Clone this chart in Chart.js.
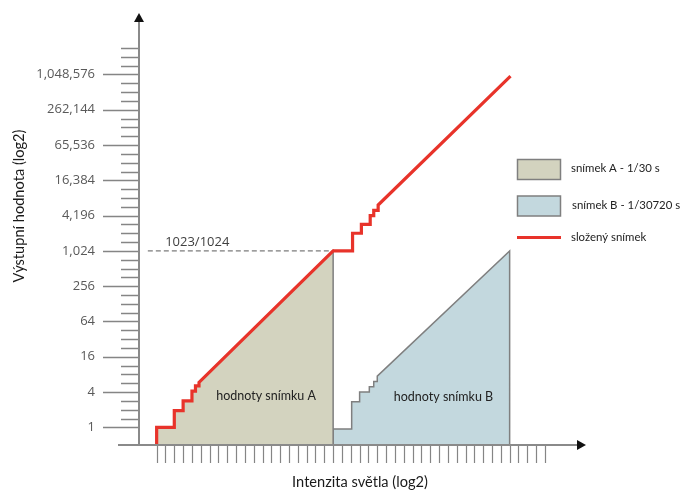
<!DOCTYPE html>
<html>
<head>
<meta charset="utf-8">
<script src="https://cdn.jsdelivr.net/npm/chart.js@4.4.1/dist/chart.umd.min.js"></script>
<style>
    body { margin: 0; background: #fff; }
    #wrap { width: 683px; height: 490px; }
</style>
</head>
<body>
<div id="wrap"><canvas id="chart" width="683" height="490"></canvas></div>
<script>
// values in log2 units (x = light intensity, y = output value)
const aX = [0, 0, 1, 1, 1.5, 1.5, 2, 2, 2.2, 2.2, 2.4, 2.4, 10, 10];
const aY = [-1, 0, 0, 0.95, 0.95, 1.5, 1.5, 2.05, 2.05, 2.35, 2.35, 2.55, 10, -1];

const bX = [10, 10, 11.05, 11.05, 11.5, 11.5, 12.05, 12.05, 12.3, 12.3, 12.5, 12.5, 20, 20];
const bY = [-1, -0.1, -0.1, 1.45, 1.45, 2.0, 2.0, 2.3, 2.3, 2.6, 2.6, 2.9, 10, -1];

const cX = [0, 0, 1, 1, 1.5, 1.5, 2, 2, 2.2, 2.2, 2.4, 2.4, 10, 11.1, 11.1, 11.6, 11.6, 12.1, 12.1, 12.3, 12.3, 12.55, 12.55, 20.05];
const cY = [-1, 0, 0, 0.95, 0.95, 1.5, 1.5, 2.05, 2.05, 2.35, 2.35, 2.55, 10, 10, 11, 11, 11.5, 11.5, 12, 12, 12.3, 12.3, 12.6, 19.9];

const dashX = [-0.5, 10];
const dashY = [10, 10];

const yTickPos = [0, 2, 4, 6, 8, 10, 12, 14, 16, 18, 20];
const yTickLabels = ['1', '4', '16', '64', '256', '1,024', '4,196', '16,384', '65,536', '262,144', '1,048,576'];

const seriesNames = ['snímek A - 1/30 s', 'snímek B - 1/30720 s', 'složený snímek'];

const colA = '#d3d3bf';
const colB = '#c3d8de';
const colRed = '#e8332a';
const colEdge = '#7f7f7f';

function pts(xs, ys) {
    return xs.map((x, i) => ({ x: x, y: ys[i] }));
}

const axesPlugin = {
    id: 'axesPlugin',
    afterDatasetsDraw(chart) {
        const ctx = chart.ctx;
        const xs = chart.scales.x;
        const ys = chart.scales.y;
        const x0 = xs.getPixelForValue(-1);
        const y0 = ys.getPixelForValue(-1);
        const top = chart.chartArea.top;
        const right = chart.chartArea.right;

        ctx.save();
        // y minor / major ticks
        ctx.strokeStyle = '#858585';
        ctx.lineWidth = 1.5;
        for (let v = 0; v <= 21.5; v += 0.5) {
            const py = Math.round(ys.getPixelForValue(v)) + 0.5;
            const major = yTickPos.indexOf(v) >= 0;
            ctx.beginPath();
            ctx.moveTo(x0 - (major ? 36 : 18), py);
            ctx.lineTo(x0, py);
            ctx.stroke();
        }
        // x ticks
        ctx.lineWidth = 1.2;
        for (let u = 0; u <= 22; u += 0.5) {
            const px = Math.round(xs.getPixelForValue(u)) + 0.5;
            ctx.beginPath();
            ctx.moveTo(px, y0 + 1);
            ctx.lineTo(px, y0 + 18);
            ctx.stroke();
        }
        // axis lines
        ctx.strokeStyle = '#8a8a8a';
        ctx.lineWidth = 2;
        ctx.beginPath();
        ctx.moveTo(x0, y0);
        ctx.lineTo(x0, top + 6);
        ctx.moveTo(x0 - 21, y0);
        ctx.lineTo(right - 6, y0);
        ctx.stroke();
        // arrows
        ctx.fillStyle = '#111';
        ctx.beginPath();
        ctx.moveTo(x0, top - 2);
        ctx.lineTo(x0 - 5, top + 7);
        ctx.lineTo(x0 + 5, top + 7);
        ctx.closePath();
        ctx.fill();
        ctx.beginPath();
        ctx.moveTo(right + 1, y0);
        ctx.lineTo(right - 8, y0 - 5);
        ctx.lineTo(right - 8, y0 + 5);
        ctx.closePath();
        ctx.fill();

        // tick labels
        ctx.fillStyle = '#595959';
        ctx.font = '13px "Open Sans"';
        ctx.textAlign = 'right';
        ctx.textBaseline = 'middle';
        yTickPos.forEach((v, i) => {
            ctx.fillText(yTickLabels[i], x0 - 44, ys.getPixelForValue(v));
        });

        // dashed line label
        ctx.fillStyle = '#404040';
        ctx.textAlign = 'center';
        ctx.fillText('1023/1024', xs.getPixelForValue(2.3), ys.getPixelForValue(10) - 9);

        // region labels
        ctx.fillStyle = '#222';
        ctx.font = '12.5px Lato';
        ctx.fillText('hodnoty snímku A', xs.getPixelForValue(6.2), ys.getPixelForValue(1.8));
        ctx.fillText('hodnoty snímku B', xs.getPixelForValue(16.25), ys.getPixelForValue(1.75));

        // axis titles
        ctx.fillStyle = '#1a1a1a';
        ctx.font = '14.6px Lato';
        ctx.fillText('Intenzita světla (log2)', 360, 482);
        ctx.save();
        ctx.translate(19, 206);
        ctx.rotate(-Math.PI / 2);
        ctx.fillText('Výstupní hodnota (log2)', 0, 0);
        ctx.restore();

        // legend
        ctx.lineWidth = 1.5;
        ctx.strokeStyle = colEdge;
        ctx.fillStyle = colA;
        ctx.fillRect(517.5, 159.5, 43, 20);
        ctx.strokeRect(517.5, 159.5, 43, 20);
        ctx.fillStyle = colB;
        ctx.fillRect(517.5, 196, 43, 20);
        ctx.strokeRect(517.5, 196, 43, 20);
        ctx.strokeStyle = colRed;
        ctx.lineWidth = 3;
        ctx.beginPath();
        ctx.moveTo(517, 237.5);
        ctx.lineTo(561, 237.5);
        ctx.stroke();
        ctx.fillStyle = '#222';
        ctx.font = '11.4px Lato';
        ctx.textAlign = 'left';
        ctx.fillText(seriesNames[0], 571, 168);
        ctx.fillText(seriesNames[1], 572, 205);
        ctx.fillText(seriesNames[2], 571, 237);
        ctx.restore();
    }
};

const ctx = document.getElementById('chart').getContext('2d');
const chart = new Chart(ctx, {
    type: 'line',
    data: {
        datasets: [
            {
                label: seriesNames[2],
                data: pts(cX, cY),
                borderColor: colRed,
                borderWidth: 3.2,
                borderJoinStyle: 'miter',
                pointRadius: 0,
                fill: false,
                tension: 0
            },
            {
                label: 'dash',
                data: pts(dashX, dashY),
                borderColor: '#5a5a5a',
                borderWidth: 1,
                borderDash: [5, 3],
                pointRadius: 0,
                fill: false
            },
            {
                label: seriesNames[0],
                data: pts(aX, aY),
                borderColor: colEdge,
                borderWidth: 1.5,
                backgroundColor: colA,
                pointRadius: 0,
                fill: { target: { value: -1 } },
                tension: 0
            },
            {
                label: seriesNames[1],
                data: pts(bX, bY),
                borderColor: colEdge,
                borderWidth: 1.5,
                backgroundColor: colB,
                pointRadius: 0,
                fill: { target: { value: -1 } },
                tension: 0
            }
        ]
    },
    options: {
        responsive: false,
        animation: false,
        events: [],
        layout: {
            padding: { left: 139, right: 98, top: 15, bottom: 45 }
        },
        scales: {
            x: { type: 'linear', min: -1, max: 24.27, display: false },
            y: { type: 'linear', min: -1, max: 23.37, display: false }
        },
        plugins: {
            legend: { display: false },
            tooltip: { enabled: false }
        }
    },
    plugins: [axesPlugin]
});
</script>
</body>
</html>
